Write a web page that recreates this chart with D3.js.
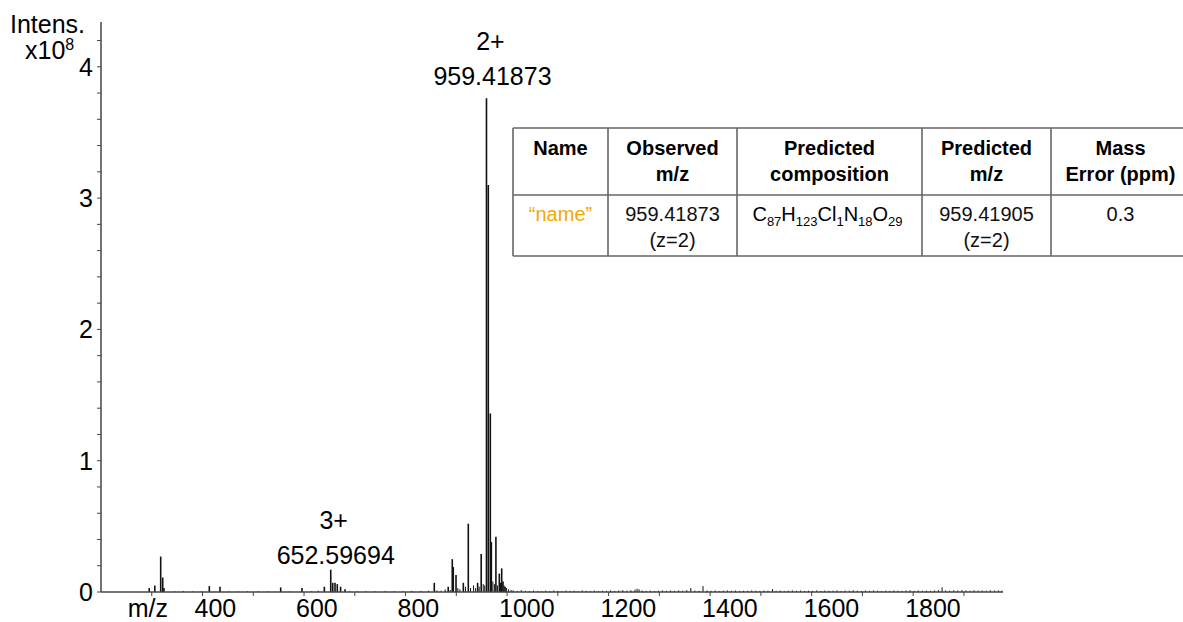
<!DOCTYPE html>
<html>
<head>
    <title>Mass spectrum</title>
    <script src="https://cdnjs.cloudflare.com/ajax/libs/d3/7.8.5/d3.min.js"></script>
    <style>
    body { margin: 0; background: #fff; }
    svg { font-family: "Liberation Sans", Arial, sans-serif; }
    </style>
</head>
<body>
<div id="chart"></div>

<script>
// labelled / main peaks (m/z, intensity x10^8)
const peakMz = [295, 306, 317.6, 321.6, 324, 413.4, 434.4, 554, 596,
    640, 652.6, 656.5, 661, 665.5, 672, 680.7,
    856.6, 884, 892, 894, 899.4, 913.8, 923.6, 942, 949,
    959.42, 963, 967, 969, 978, 984.7, 989.4, 992, 996];
const peakInt = [0.03, 0.05, 0.27, 0.11, 0.03, 0.045, 0.04, 0.035, 0.03,
    0.04, 0.17, 0.07, 0.07, 0.06, 0.04, 0.02,
    0.07, 0.04, 0.25, 0.19, 0.13, 0.07, 0.52, 0.07, 0.29,
    3.76, 3.10, 1.36, 0.38, 0.42, 0.14, 0.18, 0.08, 0.04];

// small baseline peaks
const noiseMz = [345, 362, 380, 398, 452, 470, 489, 510, 528, 572, 615, 628, 690, 705, 722, 740, 760, 778, 795, 812, 830, 845,
    862, 870, 878, 888, 903, 907, 918, 928, 934, 938, 945, 953, 956, 972, 975, 981, 987, 994, 999, 1003, 1008,
    1012, 1020, 1028, 1036, 1044, 1052, 1060, 1068, 1076, 1084, 1092, 1100, 1108, 1116, 1124, 1132, 1140, 1148, 1156, 1164,
    1172, 1180, 1188, 1196, 1204, 1212, 1220, 1228, 1236, 1244, 1252, 1256, 1260, 1266, 1274, 1282, 1290, 1298, 1306, 1314,
    1322, 1330, 1338, 1346, 1354, 1362, 1370, 1378, 1386, 1394, 1402, 1410, 1418, 1426, 1434, 1442, 1450, 1458, 1466, 1474,
    1482, 1490, 1498, 1506, 1514, 1523, 1530, 1538, 1546, 1554, 1562, 1570, 1578, 1586, 1594, 1602, 1610, 1618, 1626, 1634,
    1642, 1650, 1658, 1666, 1674, 1682, 1690, 1698, 1706, 1714, 1722, 1730, 1738, 1746, 1754, 1762, 1770, 1778, 1786, 1794,
    1802, 1810, 1818, 1826, 1834, 1842, 1850, 1857, 1864, 1872, 1880, 1888, 1896, 1904, 1912, 1920, 1928, 1936, 1944, 1952,
    1960, 1968, 1975];
const noiseInt = [0.006, 0.008, 0.005, 0.007, 0.006, 0.005, 0.007, 0.006, 0.005, 0.006, 0.007, 0.01, 0.008, 0.006, 0.007, 0.006, 0.008, 0.006, 0.007, 0.009, 0.008, 0.01,
    0.012, 0.01, 0.02, 0.015, 0.03, 0.02, 0.04, 0.03, 0.05, 0.03, 0.04, 0.06, 0.05, 0.08, 0.06, 0.05, 0.07, 0.05, 0.03, 0.02, 0.015,
    0.012, 0.008, 0.014, 0.009, 0.007, 0.011, 0.008, 0.006, 0.01, 0.007, 0.012, 0.009, 0.006, 0.011, 0.008, 0.01, 0.007, 0.012, 0.009, 0.008,
    0.011, 0.007, 0.01, 0.009, 0.012, 0.008, 0.011, 0.014, 0.01, 0.013, 0.018, 0.025, 0.02, 0.012, 0.009, 0.011, 0.008, 0.01, 0.012, 0.009,
    0.011, 0.008, 0.012, 0.01, 0.014, 0.03, 0.011, 0.009, 0.045, 0.012, 0.009, 0.011, 0.008, 0.01, 0.012, 0.009, 0.011, 0.008, 0.01, 0.009,
    0.012, 0.01, 0.008, 0.011, 0.01, 0.022, 0.009, 0.011, 0.008, 0.01, 0.012, 0.009, 0.011, 0.008, 0.01, 0.009, 0.012, 0.008, 0.011, 0.009,
    0.01, 0.012, 0.008, 0.011, 0.009, 0.013, 0.01, 0.008, 0.011, 0.009, 0.012, 0.01, 0.008, 0.011, 0.009, 0.012, 0.01, 0.008, 0.011, 0.013,
    0.009, 0.012, 0.01, 0.011, 0.009, 0.012, 0.014, 0.035, 0.012, 0.01, 0.013, 0.011, 0.014, 0.012, 0.01, 0.013, 0.011, 0.012, 0.01, 0.013,
    0.011, 0.012, 0.01];

const xTicks = [300, 400, 500, 600, 700, 800, 900, 1000, 1100, 1200, 1300, 1400, 1500, 1600, 1700, 1800, 1900];
const xLabels = [400, 600, 800, 1000, 1200, 1400, 1600, 1800];
const yLabels = [0, 1, 2, 3, 4];
const yMinor = [0.2, 0.4, 0.6, 0.8, 1.2, 1.4, 1.6, 1.8, 2.2, 2.4, 2.6, 2.8, 3.2, 3.4, 3.6, 3.8, 4.2];

// annotations: charge state, m/z text, anchor m/z
const annCharge = ["2+", "3+"];
const annText = ["959.41873", "652.59694"];
const annMz = [959.42, 652.6];

// table
const tableHead = [["Name"], ["Observed", "m/z"], ["Predicted", "composition"], ["Predicted", "m/z"], ["Mass", "Error (ppm)"]];
const tableRow = [["\u201Cname\u201D"], ["959.41873", "(z=2)"], ["formula"], ["959.41905", "(z=2)"], ["0.3"]];
const formulaParts = [["C", "87"], ["H", "123"], ["Cl", "1"], ["N", "18"], ["O", "29"]];

const W = 1183, H = 622;
const svg = d3.select("#chart").append("svg").attr("width", W).attr("height", H);

const x = d3.scaleLinear().domain([200, 1977]).range([101, 1003]);
const y = d3.scaleLinear().domain([0, 4]).range([592, 66.8]);

const axisCol = "#444";

// spectrum sticks
const sticks = svg.append("g");
noiseMz.forEach(function(m, i) {
    sticks.append("line")
        .attr("x1", x(m)).attr("x2", x(m))
        .attr("y1", y(0)).attr("y2", y(noiseInt[i]))
        .attr("stroke", "#111").attr("stroke-width", 1);
});
peakMz.forEach(function(m, i) {
    sticks.append("line")
        .attr("x1", x(m)).attr("x2", x(m))
        .attr("y1", y(0)).attr("y2", y(peakInt[i]))
        .attr("stroke", "#111").attr("stroke-width", 1.6);
});

// axes
svg.append("line").attr("x1", x(200)).attr("x2", x(1977)).attr("y1", y(0)).attr("y2", y(0))
    .attr("stroke", axisCol).attr("stroke-width", 1.5);
svg.append("line").attr("x1", x(200)).attr("x2", x(200)).attr("y1", 22).attr("y2", y(0))
    .attr("stroke", axisCol).attr("stroke-width", 1.5);

svg.selectAll(".xt").data(xTicks).enter().append("line")
    .attr("x1", d => x(d)).attr("x2", d => x(d))
    .attr("y1", y(0)).attr("y2", y(0) + 4)
    .attr("stroke", axisCol);
svg.selectAll(".xl").data(xLabels).enter().append("text")
    .attr("x", d => x(d) - 8).attr("y", 617)
    .attr("font-size", "25px").text(d => d);
svg.append("text").attr("x", x(300) - 24).attr("y", 617).attr("font-size", "25px").text("m/z");

svg.selectAll(".yt").data(yLabels.concat(yMinor)).enter().append("line")
    .attr("x1", x(200) - 4).attr("x2", x(200))
    .attr("y1", d => y(d)).attr("y2", d => y(d))
    .attr("stroke", axisCol);
svg.selectAll(".yl").data(yLabels).enter().append("text")
    .attr("x", 93).attr("y", d => y(d)).attr("dy", "0.36em")
    .attr("text-anchor", "end").attr("font-size", "25px").text(d => d);

svg.append("text").attr("x", 10).attr("y", 33).attr("font-size", "25px").text("Intens.");
const xt = svg.append("text").attr("x", 25).attr("y", 59).attr("font-size", "25px");
xt.append("tspan").text("x10");
xt.append("tspan").attr("dy", -9).attr("font-size", "16px").text("8");

// peak annotations
annMz.forEach(function(m, i) {
    const top = d3.max(peakMz.map((p, j) => Math.abs(p - m) < 0.5 ? peakInt[j] : 0));
    const cx = x(m) + (i === 0 ? 6 : 5);
    const by = y(top) - (i === 0 ? 13 : 6);
    svg.append("text").attr("x", cx - 2).attr("y", by - 35).attr("text-anchor", "middle")
        .attr("font-size", "25px").text(annCharge[i]);
    svg.append("text").attr("x", cx).attr("y", by).attr("text-anchor", "middle")
        .attr("font-size", "25px").text(annText[i]);
});

// results table
const colX = [513, 608, 737, 922, 1051, 1190];
const rowY = [128, 195, 256];
const tb = svg.append("g");
rowY.forEach(function(ry) {
    tb.append("line").attr("x1", colX[0]).attr("x2", colX[colX.length - 1])
        .attr("y1", ry).attr("y2", ry).attr("stroke", "#666").attr("stroke-width", 1.6);
});
colX.forEach(function(cx) {
    tb.append("line").attr("x1", cx).attr("x2", cx)
        .attr("y1", rowY[0]).attr("y2", rowY[2]).attr("stroke", "#666").attr("stroke-width", 1.6);
});

tableHead.forEach(function(lines, i) {
    const cx = (colX[i] + colX[i + 1]) / 2;
    lines.forEach(function(t, k) {
        tb.append("text").attr("x", cx).attr("y", 155 + k * 26)
            .attr("text-anchor", "middle").attr("font-size", "20px").attr("font-weight", "bold")
            .text(t);
    });
});

tableRow.forEach(function(lines, i) {
    const cx = (colX[i] + colX[i + 1]) / 2;
    if (lines[0] === "formula") {
        const ft = tb.append("text").attr("x", cx - 2).attr("y", 221)
            .attr("text-anchor", "middle").attr("font-size", "20px");
        formulaParts.forEach(function(p, k) {
            ft.append("tspan").attr("dy", k === 0 ? 0 : -5).text(p[0]);
            ft.append("tspan").attr("font-size", "13px").attr("dy", 5).text(p[1]);
        });
        return;
    }
    lines.forEach(function(t, k) {
        tb.append("text").attr("x", cx).attr("y", 221 + k * 26)
            .attr("text-anchor", "middle").attr("font-size", "20px")
            .attr("fill", i === 0 ? "#f5a800" : "#111")
            .text(t);
    });
});
</script>
</body>
</html>
